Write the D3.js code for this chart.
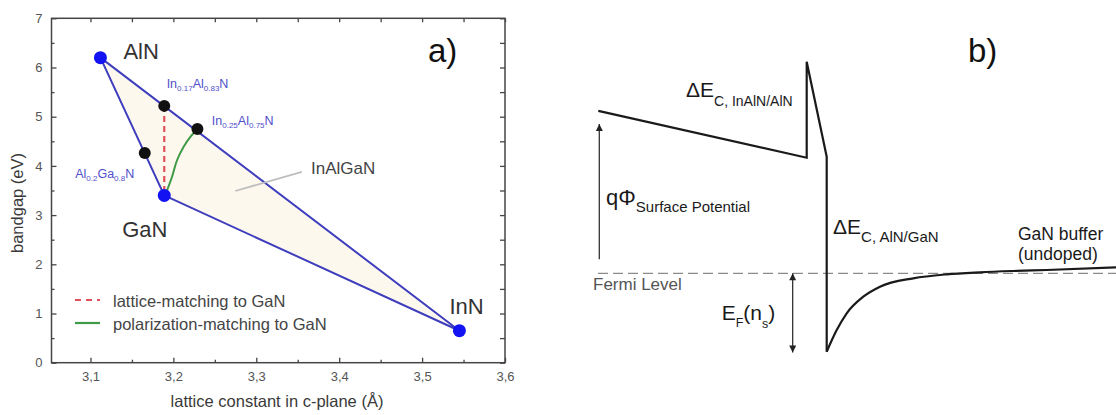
<!DOCTYPE html>
<html>
<head>
<meta charset="utf-8">
<script src="https://cdn.jsdelivr.net/npm/d3@7"></script>
<style>
  html, body { margin: 0; padding: 0; background: #fff; }
  svg { display: block; }
  text { font-family: "Liberation Sans", Arial, sans-serif; }
</style>
</head>
<body>
<svg id="chart" width="1116" height="415"></svg>
<script>
// ---------- panel a: bandgap vs. lattice constant ----------
const binaryNames   = ["AlN", "GaN", "InN"];
const binaryLattice = [3.112, 3.189, 3.545];
const binaryGap     = [6.2, 3.4, 0.65];

const alloyLattice = [3.189, 3.229, 3.1655];
const alloyGap     = [5.22, 4.75, 4.26];
const alloyLabels  = [
  ["In", "0.17", "Al", "0.83", "N"],
  ["In", "0.25", "Al", "0.75", "N"],
  ["Al", "0.2", "Ga", "0.8", "N"]
];

// lattice-matched InAlN (vertical line at the GaN lattice constant)
const latticeMatchX = [3.189, 3.189];
const latticeMatchY = [5.22, 3.4];

// polarization-matched InAlGaN path from GaN to In0.25Al0.75N
const polMatchX = [3.190, 3.1984, 3.2045, 3.2124, 3.2205, 3.229];
const polMatchY = [3.40, 3.78, 4.12, 4.39, 4.59, 4.75];

const xTicks      = [3.1, 3.2, 3.3, 3.4, 3.5, 3.6];
const xMinorTicks = [3.15, 3.25, 3.35, 3.45, 3.55];
const yTicks      = [0, 1, 2, 3, 4, 5, 6, 7];
const yMinorTicks = [0.5, 1.5, 2.5, 3.5, 4.5, 5.5, 6.5];

const legendLabels = ["lattice-matching to GaN", "polarization-matching to GaN"];

// ---------- panel b: conduction band profile ----------
const bandPos    = [0.03, 20.87, 20.87, 22.87, 22.87];
const bandEnergy = [4.06, 2.89, 5.29, 2.915, -1.96];
const wellPos    = [22.87, 23.87, 24.87, 26.53, 28.2, 31.53, 34.87, 38.2, 41.53, 44.87, 51.8];
const wellEnergy = [-1.96, -1.42, -1.0, -0.585, -0.335, -0.125, -0.025, 0.025, 0.058, 0.083, 0.15];
const fermiEnergy = 0;
const surfaceArrow = { pos: 0.13, from: 0.35, to: 3.73 };
const fermiArrow   = { pos: 19.47, from: 0, to: -1.98 };

const svg = d3.select("#chart");
svg.append("rect").attr("width", 1116).attr("height", 415).attr("fill", "#fff");

const defs = svg.append("defs");
defs.append("marker").attr("id", "head")
  .attr("viewBox", "0 0 10 10").attr("refX", 10).attr("refY", 5)
  .attr("markerWidth", 9).attr("markerHeight", 7)
  .attr("markerUnits", "userSpaceOnUse")
  .attr("orient", "auto-start-reverse")
  .append("path").attr("d", "M0,0 L10,5 L0,10 Z").attr("fill", "#222");

// ===== panel a =====
const x = d3.scaleLinear().domain([3.053, 3.6]).range([51.5, 505]);
const y = d3.scaleLinear().domain([0, 7]).range([362.7, 18.3]);
const frameColor = "#454545";
const a = svg.append("g");

// shaded InAlGaN region
const tri = binaryLattice.map((d, i) => [x(d), y(binaryGap[i])]);
a.append("path")
  .attr("d", "M" + tri.join("L") + "Z")
  .attr("fill", "#fdf8ee")
  .attr("stroke", "#3d3dbd").attr("stroke-width", 2).attr("stroke-linejoin", "round");

// lattice matching line
a.append("path")
  .attr("d", d3.line()(latticeMatchX.map((d, i) => [x(d), y(latticeMatchY[i])])))
  .attr("stroke", "#e0505a").attr("stroke-width", 2.2)
  .attr("stroke-dasharray", "6,4").attr("fill", "none");

// polarization matching curve
a.append("path")
  .attr("d", d3.line().curve(d3.curveCatmullRom)(polMatchX.map((d, i) => [x(d), y(polMatchY[i])])))
  .attr("stroke", "#3f9a45").attr("stroke-width", 2).attr("fill", "none");

// InAlGaN pointer
a.append("line")
  .attr("x1", x(3.2747)).attr("y1", y(3.49))
  .attr("x2", x(3.355)).attr("y2", y(3.88))
  .attr("stroke", "#bdbdbd").attr("stroke-width", 1.8);
a.append("text").attr("x", x(3.366)).attr("y", y(3.84))
  .attr("font-size", 17).attr("fill", "#444").text("InAlGaN");

// alloy points
a.selectAll("circle.alloy").data(alloyLattice).join("circle")
  .attr("class", "alloy")
  .attr("cx", d => x(d)).attr("cy", (d, i) => y(alloyGap[i]))
  .attr("r", 6).attr("fill", "#111");

// binary points
a.selectAll("circle.bin").data(binaryLattice).join("circle")
  .attr("class", "bin")
  .attr("cx", d => x(d)).attr("cy", (d, i) => y(binaryGap[i]))
  .attr("r", 6.5).attr("fill", "#1212f2");

// binary labels
const binOffsets = [[23, 1], [-42, 42], [-10, -17]];
binaryNames.forEach((n, i) => {
  a.append("text")
    .attr("x", x(binaryLattice[i]) + binOffsets[i][0])
    .attr("y", y(binaryGap[i]) + binOffsets[i][1])
    .attr("font-size", 22).attr("fill", "#333").text(n);
});

// alloy labels with subscripts
const alloyOffsets = [[2.4, -17.7, "start"], [14.4, -4, "start"], [-10.5, 25, "end"]];
alloyLabels.forEach((parts, i) => {
  const t = a.append("text")
    .attr("x", x(alloyLattice[i]) + alloyOffsets[i][0])
    .attr("y", y(alloyGap[i]) + alloyOffsets[i][1])
    .attr("text-anchor", alloyOffsets[i][2])
    .attr("fill", "#5050cc").attr("font-size", 12.5);
  parts.forEach((p, k) => {
    const sub = k % 2 === 1;
    const s = t.append("tspan").text(p);
    if (sub) s.attr("font-size", 8).attr("dy", 3);
    else if (k > 0) s.attr("dy", -3);
  });
});

// legend
const legendY = [300, 323];
a.append("line").attr("x1", 75).attr("x2", 100).attr("y1", legendY[0]).attr("y2", legendY[0])
  .attr("stroke", "#e0505a").attr("stroke-width", 2.2).attr("stroke-dasharray", "6,5");
a.append("line").attr("x1", 75).attr("x2", 100).attr("y1", legendY[1]).attr("y2", legendY[1])
  .attr("stroke", "#3f9a45").attr("stroke-width", 2.2);
legendLabels.forEach((l, i) => {
  a.append("text").attr("x", 113).attr("y", legendY[i] + 6.5)
    .attr("font-size", 16.5).attr("fill", "#444").text(l);
});

// axes with inward ticks
const fmt = d => d.toFixed(1).replace(".", ",");
function styleAxis(g) {
  g.select(".domain").remove();
  g.selectAll(".tick line").attr("stroke", frameColor).attr("stroke-width", 1.3);
  g.selectAll(".tick text").attr("fill", "#555").attr("font-size", 13)
    .attr("font-family", "Liberation Sans, Arial, sans-serif");
}
a.append("g").attr("transform", `translate(0,${y(0)})`)
  .call(d3.axisBottom(x).tickValues(xTicks).tickSizeInner(-5).tickSizeOuter(0).tickPadding(9).tickFormat(fmt))
  .call(styleAxis);
a.append("g").attr("transform", `translate(0,${y(0)})`)
  .call(d3.axisBottom(x).tickValues(xMinorTicks).tickSizeInner(-3).tickSizeOuter(0).tickFormat(""))
  .call(styleAxis);
a.append("g").attr("transform", `translate(0,${y(7)})`)
  .call(d3.axisTop(x).tickValues(xTicks.concat(xMinorTicks)).tickSizeInner(-4).tickSizeOuter(0).tickFormat(""))
  .call(styleAxis);
a.append("g").attr("transform", `translate(${x.range()[0]},0)`)
  .call(d3.axisLeft(y).tickValues(yTicks).tickSizeInner(-5).tickSizeOuter(0).tickPadding(9).tickFormat(d3.format("d")))
  .call(styleAxis);
a.append("g").attr("transform", `translate(${x.range()[0]},0)`)
  .call(d3.axisLeft(y).tickValues(yMinorTicks).tickSizeInner(-3).tickSizeOuter(0).tickFormat(""))
  .call(styleAxis);
a.append("g").attr("transform", `translate(${x.range()[1]},0)`)
  .call(d3.axisRight(y).tickValues(yTicks.concat(yMinorTicks)).tickSizeInner(-5).tickSizeOuter(0).tickFormat(""))
  .call(styleAxis);

// frame
a.append("rect")
  .attr("x", x.range()[0]).attr("y", y(7))
  .attr("width", x.range()[1] - x.range()[0]).attr("height", y(0) - y(7))
  .attr("fill", "none").attr("stroke", frameColor).attr("stroke-width", 1.5);

// axis titles
a.append("text").attr("x", 277).attr("y", 407)
  .attr("text-anchor", "middle").attr("font-size", 16.5).attr("fill", "#3a3a3a")
  .text("lattice constant in c-plane (Å)");
a.append("text").attr("transform", "translate(23,203) rotate(-90)")
  .attr("text-anchor", "middle").attr("font-size", 16.5).attr("fill", "#3a3a3a")
  .text("bandgap (eV)");

a.append("text").attr("x", 428).attr("y", 62)
  .attr("font-family", "Liberation Serif, Times New Roman, serif")
  .attr("font-size", 33).attr("fill", "#111").text("a)");

// ===== panel b =====
const xb = d3.scaleLinear().domain([0, 51.8]).range([598, 1116]);
const yb = d3.scaleLinear().domain([-2.5, 5.5]).range([373.3, 53.3]);
const b = svg.append("g");

// Fermi level
b.append("line")
  .attr("x1", xb(0)).attr("x2", xb(51.8)).attr("y1", yb(fermiEnergy)).attr("y2", yb(fermiEnergy))
  .attr("stroke", "#8a8a8a").attr("stroke-width", 1.3).attr("stroke-dasharray", "10,5");

// conduction band edge: barrier section
b.append("path")
  .attr("d", d3.line()(bandPos.map((d, i) => [xb(d), yb(bandEnergy[i])])))
  .attr("fill", "none").attr("stroke", "#1a1a1a").attr("stroke-width", 2.2)
  .attr("stroke-linejoin", "miter");
// conduction band edge: triangular well into GaN buffer
b.append("path")
  .attr("d", d3.line().curve(d3.curveMonotoneX)(wellPos.map((d, i) => [xb(d), yb(wellEnergy[i])])))
  .attr("fill", "none").attr("stroke", "#1a1a1a").attr("stroke-width", 2.2);

// surface potential arrow
b.append("line")
  .attr("x1", xb(surfaceArrow.pos)).attr("x2", xb(surfaceArrow.pos))
  .attr("y1", yb(surfaceArrow.from)).attr("y2", yb(surfaceArrow.to))
  .attr("stroke", "#333").attr("stroke-width", 1.3).attr("marker-end", "url(#head)");

// E_F(n_s) double arrow
b.append("line")
  .attr("x1", xb(fermiArrow.pos)).attr("x2", xb(fermiArrow.pos))
  .attr("y1", yb(fermiArrow.from)).attr("y2", yb(fermiArrow.to))
  .attr("stroke", "#222").attr("stroke-width", 1.2)
  .attr("marker-start", "url(#head)").attr("marker-end", "url(#head)");

// annotations
function subLabel(xp, yp, main, sub, mainSize, subSize, subDy, color) {
  const t = b.append("text").attr("x", xp).attr("y", yp).attr("fill", color || "#1a1a1a");
  t.append("tspan").attr("font-size", mainSize).text(main);
  t.append("tspan").attr("font-size", subSize).attr("dy", subDy).text(sub);
  return t;
}
subLabel(686, 96.7, "ΔE", "C, InAlN/AlN", 21, 14, 9.5);
subLabel(606, 205, "qΦ", "Surface Potential", 22, 15, 7);
subLabel(833, 234, "ΔE", "C, AlN/GaN", 21, 15, 7.5);

const ef = b.append("text").attr("x", 721.7).attr("y", 320).attr("fill", "#1a1a1a");
ef.append("tspan").attr("font-size", 21).text("E");
ef.append("tspan").attr("font-size", 12.5).attr("dy", 7).text("F");
ef.append("tspan").attr("font-size", 21).attr("dy", -7).text("(n");
ef.append("tspan").attr("font-size", 12.5).attr("dy", 8).text("s");
ef.append("tspan").attr("font-size", 21).attr("dy", -8).text(")");

b.append("text").attr("x", 593).attr("y", 290).attr("font-size", 17)
  .attr("fill", "#555").text("Fermi Level");
b.append("text").attr("x", 1018).attr("y", 240).attr("font-size", 17.5)
  .attr("fill", "#1a1a1a").text("GaN buffer");
b.append("text").attr("x", 1018).attr("y", 260).attr("font-size", 17.5)
  .attr("fill", "#1a1a1a").text("(undoped)");

b.append("text").attr("x", 968).attr("y", 62)
  .attr("font-family", "Liberation Serif, Times New Roman, serif")
  .attr("font-size", 33).attr("fill", "#111").text("b)");
</script>
</body>
</html>
